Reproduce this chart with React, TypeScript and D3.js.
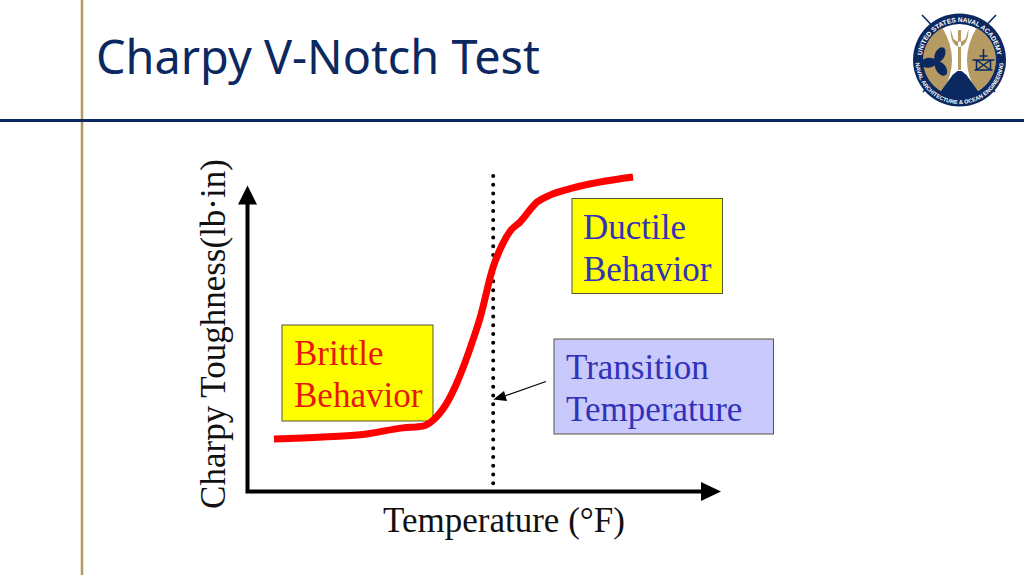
import React, { useEffect } from "react";
import * as d3 from "d3";

const title = "Charpy V-Notch Test";
const xLabel = "Temperature (°F)";
const yLabel = "Charpy Toughness(lb·in)";

// in percent of the axis length
const temperature = [5.6, 16.0, 24.4, 32.9, 37.1, 39.3, 42.2, 44.3, 47.7, 49.2, 52.0, 53.9, 55.6, 57.7, 61.3, 64.0, 68.9, 81.6];
const toughness = [17.4, 18.1, 18.9, 21.1, 21.7, 23.7, 29.4, 36.0, 50.2, 57.5, 74.5, 81.8, 86.4, 89.4, 96.0, 98.3, 100.7, 104.3];
const transitionTemp = 52;

const width = 1024;
const height = 575;
const navy = "#0b2860";
const gold = "#b59a62";

const x = d3.scaleLinear().domain([0, 100]).range([247.5, 720]);
const y = d3.scaleLinear().domain([0, 100]).range([491.5, 190]);

const curve = d3.line<number>()
  .x((d) => x(d))
  .y((_, i) => y(toughness[i]))
  .curve(d3.curveMonotoneX);

const serif = "'Liberation Serif', serif";

const Box = ({ x0, y0, x1, y1, fill, color, lines, tx, base }: any) => (
  <g>
    <rect x={x0} y={y0} width={x1 - x0} height={y1 - y0} fill={fill} stroke="#55553a" strokeWidth={1} />
    {lines.map((t: string, i: number) => (
      <text key={t} x={tx} y={base + i * 42} fill={color} fontSize={35} fontFamily={serif}>{t}</text>
    ))}
  </g>
);

const Logo = () => {
  const cx = 959.5;
  const cy = 60;
  const px = cx - 23;
  const py = cy + 2;
  return (
    <g>
      <line x1={922} y1={15} x2={995} y2={92} stroke={navy} strokeWidth={1.6} />
      <line x1={996} y1={15} x2={923} y2={92} stroke={navy} strokeWidth={1.6} />
      <circle cx={cx} cy={cy} r={46.5} fill={navy} />
      <circle cx={cx} cy={cy} r={36} fill="#fff" />
      <path d={`M${cx - 17} ${cy - 32} A36 36 0 0 0 ${cx - 17} ${cy + 32} Q${cx + 2} ${cy} ${cx - 17} ${cy - 32}Z`} fill={gold} />
      <path d={`M${cx + 17} ${cy - 32} A36 36 0 0 1 ${cx + 17} ${cy + 32} Q${cx - 2} ${cy} ${cx + 17} ${cy - 32}Z`} fill={gold} />
      <path d={`M${cx - 22} ${cy + 36} L${cx - 7} ${cy + 15} L${cx - 2} ${cy + 11} L${cx + 2} ${cy + 11} L${cx + 7} ${cy + 15} L${cx + 22} ${cy + 36} A38 38 0 0 1 ${cx - 22} ${cy + 36}Z`} fill={navy} />
      <path d={`M${cx - 1.5} ${cy - 30} h3 v40 h-3Z M${cx - 9} ${cy - 31} Q${cx - 9} ${cy - 15} ${cx} ${cy - 13} Q${cx + 9} ${cy - 15} ${cx + 9} ${cy - 31} L${cx + 6} ${cy - 21} Q${cx} ${cy - 16} ${cx - 6} ${cy - 21}Z`} fill={gold} />
      <g fill={navy}>
        <circle cx={px} cy={py} r={3.5} />
        <ellipse cx={px} cy={py - 8} rx={5} ry={8} transform={`rotate(25 ${px} ${py})`} />
        <ellipse cx={px} cy={py - 8} rx={5} ry={8} transform={`rotate(145 ${px} ${py})`} />
        <ellipse cx={px} cy={py - 8} rx={5} ry={8} transform={`rotate(265 ${px} ${py})`} />
      </g>
      <g stroke={navy} fill="none" strokeWidth={1.5}>
        <path d={`M${cx + 13} ${cy} h22 M${cx + 15} ${cy + 10} h18 M${cx + 17} ${cy} v10 M${cx + 31} ${cy} v10 M${cx + 17} ${cy} l14 10 M${cx + 31} ${cy} l-14 10 M${cx + 24} ${cy - 11} v11 M${cx + 20} ${cy - 4} h8`} />
      </g>
      <defs>
        <path id="logoTop" d={`M${cx - 38} ${cy} A38 38 0 0 1 ${cx + 38} ${cy}`} />
        <path id="logoBottom" d={`M${cx - 44} ${cy} A44 44 0 0 0 ${cx + 44} ${cy}`} />
      </defs>
      <text fill="#fff" fontSize={6.6} fontFamily="'Liberation Sans', sans-serif" fontWeight={700}>
        <textPath href="#logoTop" startOffset="50%" textAnchor="middle">UNITED STATES NAVAL ACADEMY</textPath>
      </text>
      <text fill="#fff" fontSize={5.6} fontFamily="'Liberation Sans', sans-serif" fontWeight={700}>
        <textPath href="#logoBottom" startOffset="50%" textAnchor="middle">NAVAL ARCHITECTURE &amp; OCEAN ENGINEERING</textPath>
      </text>
    </g>
  );
};

const App: React.FC = () => {
  useEffect(() => {
    document.body.style.margin = "0";
  }, []);

  const x0 = x(0);
  const y0 = y(0);
  const tx = x(transitionTemp);

  return (
    <svg width={width} height={height} viewBox={`0 0 ${width} ${height}`} style={{ display: "block", background: "#fff" }}>
      <line x1={82} y1={0} x2={82} y2={height} stroke={gold} strokeWidth={2.5} />
      <line x1={0} y1={120.5} x2={width} y2={120.5} stroke={navy} strokeWidth={3} />
      <text x={96} y={74} fill={navy} fontSize={46.8} fontFamily="'Noto Sans', sans-serif">{title}</text>
      <Logo />

      {/* axes */}
      <path d={`M${x0} 204V${y0}H702`} fill="none" stroke="#000" strokeWidth={4} />
      <path d={`M${x0} 185.5L${x0 + 9.5} 204.5H${x0 - 9.5}Z`} fill="#000" />
      <path d={`M721 ${y0}L701 ${y0 + 9.5}V${y0 - 9.5}Z`} fill="#000" />
      <text x={504} y={532} textAnchor="middle" fill="#111" fontSize={35} fontFamily={serif}>{xLabel}</text>
      <text transform="translate(225,334) rotate(-90)" textAnchor="middle" fill="#111" fontSize={35} fontFamily={serif}>{yLabel}</text>

      {/* transition line */}
      <line x1={tx} y1={176} x2={tx} y2={484} stroke="#000" strokeWidth={4} strokeLinecap="round" strokeDasharray="0 8.78" />

      <Box x0={282} y0={325} x1={433} y1={421} fill="#ffff00" color="#e8170f" lines={["Brittle", "Behavior"]} tx={294} base={365} />
      <Box x0={572} y0={198.5} x1={722.5} y1={293.5} fill="#ffff00" color="#3232b8" lines={["Ductile", "Behavior"]} tx={583} base={239} />
      <Box x0={554} y0={339} x1={773.5} y1={434} fill="#c9c9fb" color="#3232b8" lines={["Transition", "Temperature"]} tx={566} base={379} />

      <path d={curve(temperature) ?? ""} fill="none" stroke="#ff0000" strokeWidth={7} />

      {/* pointer */}
      <line x1={546} y1={381.5} x2={502} y2={397} stroke="#000" strokeWidth={1.2} />
      <path d={`M${tx} 399.5L504 391L507 401Z`} fill="#000" />
    </svg>
  );
};

export default App;
